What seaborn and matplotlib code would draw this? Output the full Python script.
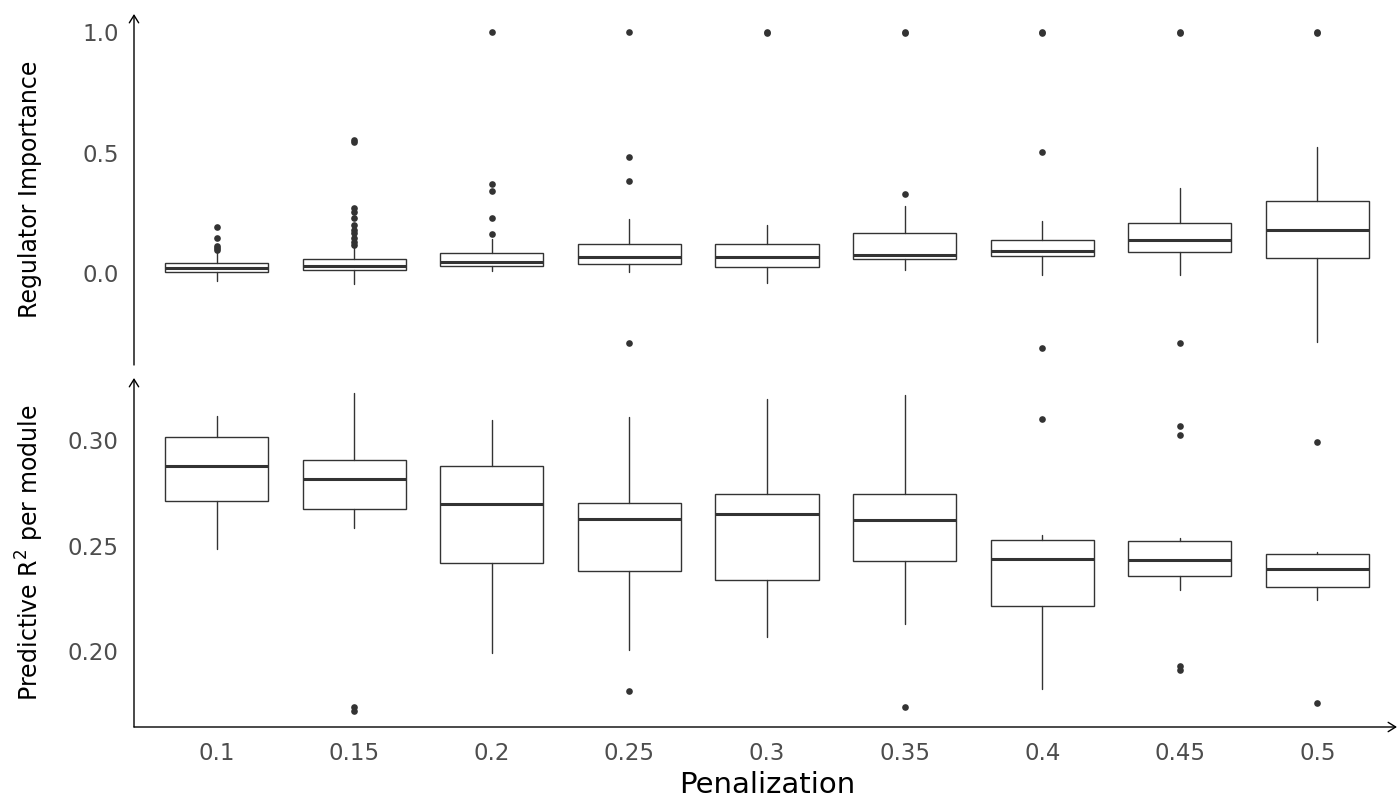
import matplotlib
matplotlib.use("Agg")
import matplotlib.pyplot as plt
import seaborn as sns

# ---------------- data ----------------
penalization = ["0.1", "0.15", "0.2", "0.25", "0.3", "0.35", "0.4", "0.45", "0.5"]

# Regulator importance (top panel)
imp_whislo = [-0.032, -0.044, 0.010, 0.005, -0.043, 0.014, -0.007, -0.010, -0.285]
imp_q1     = [0.003, 0.011, 0.029, 0.037, 0.026, 0.059, 0.071, 0.087, 0.061]
imp_med    = [0.019, 0.030, 0.047, 0.065, 0.066, 0.075, 0.093, 0.138, 0.177]
imp_q3     = [0.040, 0.057, 0.082, 0.122, 0.119, 0.166, 0.136, 0.209, 0.297]
imp_whishi = [0.086, 0.109, 0.140, 0.223, 0.198, 0.277, 0.216, 0.353, 0.523]
imp_fliers = [
    [0.190, 0.145, 0.113, 0.102, 0.095],
    [0.550, 0.545, 0.268, 0.254, 0.227, 0.199, 0.178, 0.165, 0.144, 0.130, 0.118],
    [1.000, 0.368, 0.342, 0.228, 0.163],
    [1.000, 0.481, 0.380, -0.292],
    [1.000, 0.998],
    [1.000, 0.998, 0.327],
    [1.000, 0.998, 0.503, -0.313],
    [1.000, 0.998, -0.292],
    [1.000, 0.998],
]

# Predictive R^2 per module (bottom panel)
r2_whislo = [0.2486, 0.2582, 0.1990, 0.2006, 0.2068, 0.2130, 0.1822, 0.2290, 0.2243]
r2_q1     = [0.2714, 0.2676, 0.2416, 0.2378, 0.2338, 0.2427, 0.2216, 0.2357, 0.2306]
r2_med    = [0.2878, 0.2816, 0.2700, 0.2627, 0.2649, 0.2621, 0.2435, 0.2432, 0.2392]
r2_q3     = [0.3014, 0.2906, 0.2876, 0.2703, 0.2743, 0.2746, 0.2525, 0.2521, 0.2459]
r2_whishi = [0.3116, 0.3224, 0.3098, 0.3108, 0.3195, 0.3216, 0.2549, 0.2537, 0.2470]
r2_fliers = [
    [],
    [0.1735, 0.1716],
    [],
    [0.1811],
    [],
    [0.1737],
    [0.3100],
    [0.3068, 0.3024, 0.1929, 0.1910],
    [0.2994, 0.1754],
]

imp_yticks = [0.0, 0.5, 1.0]
imp_yticklabels = ["0.0", "0.5", "1.0"]
r2_yticks = [0.20, 0.25, 0.30]
r2_yticklabels = ["0.20", "0.25", "0.30"]

# ---------------- style ----------------
sns.set_theme(style="white")
plt.rcParams["font.family"] = ["DejaVu Sans"]

INK = "#333333"
TICK_COL = "#4d4d4d"


def make_stats(lo, q1, med, q3, hi, fl):
    return [dict(whislo=a, q1=b, med=c, q3=d, whishi=e, fliers=f, label=lab)
            for a, b, c, d, e, f, lab in zip(lo, q1, med, q3, hi, fl, penalization)]


def draw(ax, stats):
    ax.bxp(stats, positions=list(range(len(stats))), widths=0.75,
           showcaps=False, patch_artist=True, manage_ticks=False,
           boxprops=dict(facecolor="white", edgecolor=INK, linewidth=1.0),
           whiskerprops=dict(color=INK, linewidth=1.0),
           medianprops=dict(color=INK, linewidth=2.2, solid_capstyle="butt"),
           flierprops=dict(marker="o", markersize=4.8, markerfacecolor=INK,
                           markeredgecolor=INK, markeredgewidth=0, linestyle="none"))
    ax.set_xlim(-0.6, len(stats) - 0.4)
    for s in ax.spines.values():
        s.set_visible(False)
    ax.grid(False)
    ax.tick_params(length=0, pad=11, labelsize=16.5, labelcolor=TICK_COL)


def arrow(ax, start, end):
    ax.annotate("", xy=end, xytext=start, xycoords="axes fraction",
                textcoords="axes fraction", annotation_clip=False,
                arrowprops=dict(arrowstyle="->,head_length=0.45,head_width=0.28",
                                mutation_scale=12, lw=1.0, color="black",
                                shrinkA=0, shrinkB=0))


fig = plt.figure(figsize=(14, 8), dpi=100)
ax_top = fig.add_axes([134 / 1400, 1 - 365 / 800, 1 - 134 / 1400, (365 - 14) / 800])
ax_bot = fig.add_axes([134 / 1400, 1 - 727 / 800, 1 - 134 / 1400, (727 - 378) / 800])

draw(ax_top, make_stats(imp_whislo, imp_q1, imp_med, imp_q3, imp_whishi, imp_fliers))
draw(ax_bot, make_stats(r2_whislo, r2_q1, r2_med, r2_q3, r2_whishi, r2_fliers))

ax_top.set_ylim(-0.382, 1.075)
ax_top.set_yticks(imp_yticks)
ax_top.set_yticklabels(imp_yticklabels)
ax_top.set_xticks([])

ax_bot.set_ylim(0.1641, 0.3295)
ax_bot.set_yticks(r2_yticks)
ax_bot.set_yticklabels(r2_yticklabels)
ax_bot.set_xticks(list(range(len(penalization))))
ax_bot.set_xticklabels(penalization)

arrow(ax_top, (0, 0), (0, 1))
arrow(ax_bot, (0, 0), (0, 1))
arrow(ax_bot, (0, 0), (0.9976, 0))

ax_top.set_ylabel("Regulator Importance", fontsize=17, color="black", va="center")
ax_bot.set_ylabel("Predictive R$^2$ per module", fontsize=17, color="black", va="center")
lx = (30 - 134) / (1400 - 134)
ax_top.yaxis.set_label_coords(lx, 0.5)
ax_bot.yaxis.set_label_coords(lx, 0.5)

ax_bot.set_xlabel("Penalization", fontsize=21, color="black", labelpad=4)

fig.savefig("out.png", dpi=100, facecolor="white")
